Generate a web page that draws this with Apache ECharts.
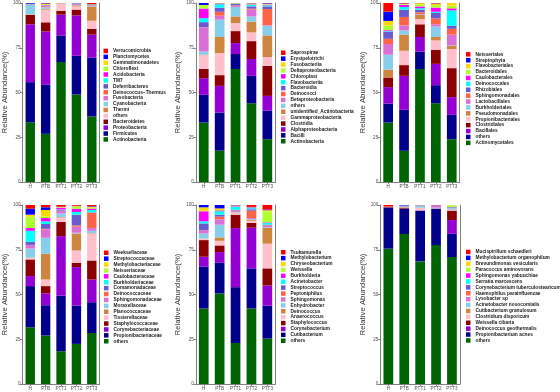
<!DOCTYPE html>
<html>
<head>
<meta charset="utf-8">
<script src="https://cdn.jsdelivr.net/npm/echarts@6/dist/echarts.min.js"></script>
<style>
html, body { margin: 0; padding: 0; background: #fff; }
#chart { width: 560px; height: 392px; }
</style>
</head>
<body>
<div id="chart"></div>
<script>
var groups = ["H", "PTB", "PTT1", "PTT2", "PTT3"];
var yTicks = [0, 25, 50, 75, 100];

// 16 fill colours, bottom of the stack first
var palette = ["#006400", "#00008B", "#9400D3", "#8B0000", "#FFC0CB", "#CD853F", "#87CEEB", "#DA70D6",
	"#FF6347", "#6A5ACD", "#00FFFF", "#FF00FF", "#ADFF2F", "#FFD700", "#0000FF", "#FF0000"];

// phylum
var phylumNames = ["Actinobacteria", "Firmicutes", "Proteobacteria", "Bacteroidetes", "others", "Thermi",
	"Cyanobacteria", "Fusobacteria", "Deinococcus\u2212Thermus", "Deferribacteres", "TM7", "Acidobacteria",
	"Chloroflexi", "Gemmatimonadetes", "Planctomycetes", "Verrucomicrobia"];
var phylumValues = [
	[33.4, 26.9, 67.0, 48.9, 36.6],
	[22.4, 27.4, 14.9, 21.6, 32.8],
	[32.3, 29.8, 11.6, 22.6, 12.9],
	[5.3, 5.1, 2.2, 3.2, 3.3],
	[0.2, 7.1, 3.7, 1.8, 4.5],
	[0.1, 0.5, 0.1, 0.6, 8.0],
	[5.2, 0.7, 0.1, 0.2, 0.3],
	[0.1, 0.4, 0.1, 0.5, 0.2],
	[0.1, 0.3, 0.05, 0.2, 0.2],
	[0.1, 0.3, 0.05, 0.3, 0.1],
	[0.1, 0.2, 0.05, 0.1, 0.1],
	[0.1, 0.2, 0.05, 0.1, 0.1],
	[0.1, 0.2, 0.05, 0.1, 0.1],
	[0.1, 0.4, 0.05, 0.1, 0.1],
	[0.5, 0.3, 0.05, 0.1, 0.1],
	[0.1, 0.2, 0.05, 0.1, 0.6]
];

// class
var classNames = ["Actinobacteria", "Bacilli", "Alphaproteobacteria", "Clostridia", "Gammaproteobacteria",
	"unidentified_Actinobacteria", "others", "Betaproteobacteria", "Deinococci", "Bacteroidia", "Flavobacteriia",
	"Chloroplast", "Deltaproteobacteria", "Fusobacteriia", "Erysipelotrichi", "Saprospirae"];
var classValues = [
	[33.2, 17.5, 63.1, 44.0, 23.9],
	[15.5, 21.3, 8.4, 15.3, 16.0],
	[9.3, 14.9, 6.1, 9.4, 8.2],
	[5.2, 6.0, 6.7, 10.0, 16.8],
	[7.7, 12.3, 4.5, 4.9, 4.9],
	[0.2, 9.0, 3.7, 6.0, 12.1],
	[1.8, 9.7, 5.3, 2.9, 5.4],
	[13.5, 2.2, 0.7, 3.8, 0.3],
	[0.1, 2.2, 0.2, 0.5, 9.0],
	[2.8, 2.3, 0.8, 1.3, 1.5],
	[2.2, 1.9, 0.2, 0.8, 0.6],
	[5.4, 0.2, 0.1, 0.3, 0.4],
	[1.9, 0.2, 0.1, 0.3, 0.3],
	[0.1, 0.1, 0.1, 0.3, 0.2],
	[1.1, 0.1, 0.05, 0.2, 0.3],
	[0.0, 0.1, 0.05, 0.1, 0.1]
];

// order
var orderNames = ["Actinomycetales", "others", "Bacillales", "Clostridiales", "Propionibacteriales",
	"Pseudomonadales", "Burkholderiales", "Lactobacillales", "Sphingomonadales", "Rhizobiales", "Deinococcales",
	"Caulobacterales", "Bacteroidales", "Flavobacteriales", "Streptophyta", "Neisseriales"];
var orderValues = [
	[33.2, 17.4, 63.1, 44.0, 23.9],
	[10.6, 22.9, 9.8, 10.1, 13.6],
	[9.2, 19.0, 8.1, 11.9, 9.9],
	[5.4, 6.0, 7.1, 7.9, 16.2],
	[0.1, 8.0, 2.9, 5.2, 10.7],
	[4.2, 9.0, 2.3, 1.9, 1.8],
	[8.4, 2.4, 0.2, 5.9, 0.2],
	[6.0, 2.8, 0.3, 1.2, 6.0],
	[2.9, 4.7, 1.0, 3.3, 3.3],
	[4.0, 4.1, 1.5, 3.0, 1.7],
	[0.3, 1.5, 0.8, 0.7, 8.6],
	[0.5, 1.1, 1.0, 2.3, 1.1],
	[2.6, 0.4, 1.2, 1.5, 1.5],
	[2.6, 0.3, 0.6, 0.7, 1.5],
	[5.2, 0.2, 0.05, 0.2, 0.0],
	[4.8, 0.2, 0.05, 0.2, 0.0]
];

// family
var familyNames = ["others", "Propionibacteriaceae", "Corynebacteriaceae", "Staphylococcaceae", "Tissierellaceae",
	"Planococcaceae", "Moraxellaceae", "Sphingomonadaceae", "Deinococcaceae", "Comamonadaceae", "Burkholderiaceae",
	"Caulobacteraceae", "Neisseriaceae", "Methylobacteriaceae", "Streptococcaceae", "Weeksellaceae"];
var familyValues = [
	[31.7, 27.1, 18.3, 22.4, 28.5],
	[23.0, 16.9, 31.1, 21.4, 17.2],
	[5.6, 6.6, 33.2, 21.5, 12.7],
	[9.3, 4.1, 7.9, 2.4, 10.6],
	[0.9, 3.7, 2.6, 6.9, 15.1],
	[0.2, 14.4, 0.2, 9.5, 0.2],
	[5.0, 8.9, 2.0, 0.4, 1.3],
	[1.9, 4.7, 1.3, 3.4, 1.5],
	[0.1, 0.3, 0.3, 0.7, 8.6],
	[1.8, 2.7, 0.3, 6.0, 0.2],
	[6.1, 1.5, 0.3, 1.5, 1.3],
	[1.5, 1.8, 1.0, 1.8, 0.8],
	[6.4, 0.8, 0.2, 1.2, 0.5],
	[1.1, 3.7, 0.2, 0.3, 0.5],
	[3.4, 1.5, 0.2, 0.2, 0.3],
	[2.0, 1.3, 0.9, 0.4, 0.7]
];

// genus
var genusNames = ["others", "Cutibacterium", "Corynebacterium", "Staphylococcus", "Anaerococcus", "Deinococcus",
	"Enhydrobacter", "Sphingomonas", "Peptoniphilus", "Streptococcus", "Acinetobacter", "Burkholderia",
	"Weissella", "Chryseobacterium", "Methylobacterium", "Tsukamurella"];
var genusValues = [
	[42.2, 50.6, 22.9, 42.2, 25.4],
	[23.3, 17.1, 31.2, 22.4, 18.4],
	[5.6, 6.0, 33.0, 22.7, 11.2],
	[9.3, 3.7, 7.5, 2.8, 9.6],
	[0.8, 2.6, 1.1, 1.1, 13.8],
	[0.1, 1.9, 0.2, 0.7, 8.9],
	[2.8, 7.1, 0.3, 0.3, 0.3],
	[1.8, 3.0, 0.5, 0.5, 0.8],
	[0.1, 1.5, 0.3, 4.1, 0.3],
	[3.7, 1.1, 0.4, 0.8, 0.3],
	[1.2, 1.9, 1.6, 0.6, 1.0],
	[5.6, 0.5, 0.3, 0.2, 0.3],
	[0.2, 0.2, 0.2, 0.1, 6.1],
	[2.0, 0.9, 0.2, 0.2, 0.7],
	[1.3, 1.9, 0.2, 0.3, 0.4],
	[0.0, 0.0, 0.1, 1.0, 2.5]
];

// species
var speciesNames = ["others", "Propionibacterium acnes", "Deinococcus geothermalis", "Weissella cibaria",
	"Clostridium disporicum", "Cutibacterium granulosum", "Acinetobacter nosocomialis", "Lysobacter sp",
	"Haemophilus parainfluenzae", "Corynebacterium tuberculostearicum", "Serratia marcescens",
	"Sphingomonas yabuuchiae", "Paracoccus aminovorans", "Brevundimonas vesicularis",
	"Methylobacterium organophilum", "Mucispirillum schaedleri"];
var speciesValues = [
	[75.6, 83.8, 68.5, 77.6, 70.9],
	[23.1, 14.1, 28.3, 20.3, 13.0],
	[0.0, 0.1, 0.1, 0.0, 7.7],
	[0.0, 0.5, 0.1, 0.1, 5.2],
	[0.0, 0.2, 1.4, 0.1, 0.3],
	[0.0, 0.1, 0.1, 0.1, 0.3],
	[0.0, 0.3, 1.0, 0.3, 0.7],
	[0.0, 0.1, 0.1, 1.0, 0.2],
	[0.5, 0.1, 0.1, 0.2, 0.2],
	[0.0, 0.4, 0.1, 0.1, 0.3],
	[0.0, 0.1, 0.1, 0.0, 0.1],
	[0.0, 0.0, 0.0, 0.0, 0.1],
	[0.0, 0.0, 0.0, 0.0, 0.9],
	[0.0, 0.0, 0.0, 0.0, 0.1],
	[0.0, 0.2, 0.0, 0.1, 0.0],
	[0.8, 0.0, 0.1, 0.1, 0.0]
];

(function(){
	"use strict";

	var axisGrey = "#808080",
		labelGrey = "#4d4d4d",
		font = "Liberation Sans";

	// panel boxes in pixels
	var panels = [
		{names: phylumNames, values: phylumValues, left: 20, top: 3, legendLeft: 103.5, legendTop: 48},
		{names: classNames, values: classValues, left: 195.8, top: 3, legendLeft: 281, legendTop: 49.8},
		{names: orderNames, values: orderValues, left: 380.2, top: 3, legendLeft: 466, legendTop: 51.4},
		{names: familyNames, values: familyValues, left: 20, top: 205, legendLeft: 104, legendTop: 249.8},
		{names: genusNames, values: genusValues, left: 195.8, top: 205, legendLeft: 281, legendTop: 249.3},
		{names: speciesNames, values: speciesValues, left: 380.4, top: 205, legendLeft: 466, legendTop: 249}
	];

	var init = function(){
		var chart = echarts.init(document.getElementById("chart"), null, {renderer: "canvas"});
		chart.setOption(buildOption());
	},
	buildOption = function(){
		var grid = [], xAxis = [], yAxis = [], legend = [], series = [];
		panels.forEach(function(p, i){
			grid.push({left: p.left, top: p.top, width: 79.5, height: 179, containLabel: false});
			xAxis.push({
				type: "category", gridIndex: i, data: groups,
				axisLine: {lineStyle: {color: axisGrey, width: 1}},
				axisTick: {show: true, length: 2, alignWithLabel: true, lineStyle: {color: axisGrey}},
				axisLabel: {interval: 0, fontSize: 4.6, color: labelGrey, margin: 2.5, fontFamily: font}
			});
			yAxis.push({
				type: "value", gridIndex: i, min: yTicks[0], max: yTicks[yTicks.length - 1], interval: 25,
				name: "Relative Abundance(%)", nameLocation: "middle", nameGap: 12,
				nameTextStyle: {fontSize: 7.8, color: "#333", fontFamily: font},
				axisLine: {show: true, lineStyle: {color: axisGrey, width: 1}},
				axisTick: {show: true, length: 2.5, lineStyle: {color: axisGrey}},
				axisLabel: {fontSize: 4.6, color: labelGrey, margin: 2, fontFamily: font},
				splitLine: {show: false}
			});
			yAxis.push({
				type: "value", gridIndex: i, position: "right", min: 0, max: 100,
				axisLine: {show: true, lineStyle: {color: axisGrey, width: 1}},
				axisTick: {show: false}, axisLabel: {show: false}, splitLine: {show: false}
			});
			var items = [];
			for (var k = p.names.length - 1; k >= 0; k--) {
				items.push({name: p.names[k], icon: "rect", itemStyle: {color: palette[k]}});
			}
			legend.push({
				orient: "vertical", left: p.legendLeft, top: p.legendTop, data: items,
				itemWidth: 4.5, itemHeight: 4.5, itemGap: 0, selectedMode: false, padding: 0,
				textStyle: {fontSize: 4.8, lineHeight: 5.9, fontWeight: "bold", color: "#1a1a1a", fontFamily: font}
			});
			p.names.forEach(function(name, k){
				series.push({
					type: "bar", name: name, stack: "s" + i, xAxisIndex: i, yAxisIndex: i * 2,
					barWidth: "61%", data: p.values[k], animation: false,
					itemStyle: {color: palette[k]}, emphasis: {disabled: true}
				});
			});
		});
		return {
			backgroundColor: "#fff",
			animation: false,
			grid: grid, xAxis: xAxis, yAxis: yAxis, legend: legend, series: series
		};
	};

	init();
})();
</script>
</body>
</html>
